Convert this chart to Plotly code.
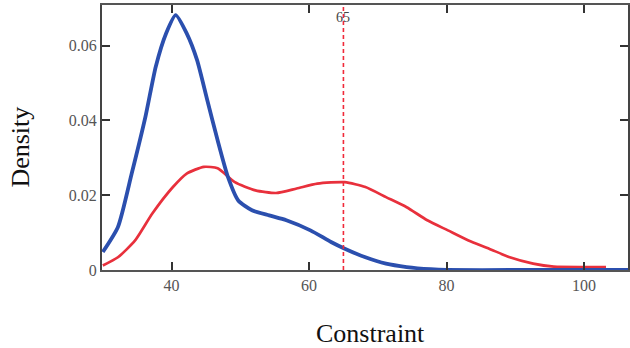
import plotly.graph_objects as go

# Data
blue_x = [30, 32.2, 34.2, 36.2, 37.7, 39.2, 40.6, 42.2, 43.7, 45.2, 46.7, 48.2, 49.7,
          51.7, 54.2, 56.7, 60.2, 63.2, 65.2, 68.2, 71.2, 74.2, 77.7, 80, 90, 100, 106.4]
blue_y = [0.0048, 0.0115, 0.0258, 0.041, 0.0544, 0.0633, 0.0682, 0.0633, 0.0562, 0.0454,
          0.0347, 0.0249, 0.0186, 0.016, 0.0146, 0.0133, 0.0106, 0.0075, 0.0057, 0.0034,
          0.0017, 0.0008, 0.0002, 0.0, 0.0, 0.0, 0.0]

red_x = [30, 32.2, 34.7, 37.2, 40.2, 42.2, 44.7, 46.7, 49.2, 52.2, 55.2, 58.2, 61.2,
         65.2, 68.2, 71.2, 74.2, 77.2, 80.2, 83.2, 86.2, 89.2, 92.6, 95.6, 100, 103.2]
red_y = [0.0012, 0.0034, 0.0079, 0.0151, 0.0222, 0.0258, 0.0276, 0.0272, 0.0235, 0.0213,
         0.0206, 0.0218, 0.0231, 0.0235, 0.0222, 0.0195, 0.0168, 0.0133, 0.0106, 0.0079,
         0.0057, 0.0034, 0.0017, 0.0009, 0.0008, 0.0008]

threshold = 65
x_ticks = [40, 60, 80, 100]
y_ticks = [0, 0.02, 0.04, 0.06]
y_tick_labels = ["0", "0.02", "0.04", "0.06"]

fig = go.Figure()
fig.add_trace(go.Scatter(x=red_x, y=red_y, mode="lines",
                         line=dict(color="#e8303c", width=2.7, shape="spline", smoothing=0.6)))
fig.add_trace(go.Scatter(x=blue_x, y=blue_y, mode="lines",
                         line=dict(color="#2b4fae", width=3.8, shape="spline", smoothing=0.6)))

fig.add_shape(type="line", x0=threshold, x1=threshold, y0=0, y1=1, xref="x", yref="paper",
              line=dict(color="#f02a3a", width=1.6, dash="4px,3px"))

axis_font = dict(family="Liberation Serif", size=16, color="#555")
title_font = dict(family="Liberation Serif", size=26, color="#111")
fig.update_layout(
    width=630, height=348,
    margin=dict(l=102, r=0, t=5, b=78),
    paper_bgcolor="white", plot_bgcolor="white",
    showlegend=False,
    annotations=[
        dict(x=threshold, y=0.0676, xref="x", yref="y", text=str(threshold), showarrow=False,
             xanchor="center", yanchor="middle",
             font=dict(family="Liberation Serif", size=14, color="#444")),
        dict(x=-(102 - 20) / 528, y=0.463, xref="paper", yref="paper", text="Density",
             showarrow=False, textangle=-90, xanchor="center", yanchor="middle",
             font=title_font),
        dict(x=0.5105, y=-0.238, xref="paper", yref="paper", text="Constraint",
             showarrow=False, xanchor="center", yanchor="middle", font=title_font),
    ],
    xaxis=dict(range=[29.88, 106.4], tickvals=x_ticks, ticks="inside", ticklen=8, tickwidth=2,
               tickcolor="#333", showline=True, linecolor="#555", linewidth=2, mirror="ticks",
               showgrid=False, zeroline=False, tickfont=axis_font),
    yaxis=dict(range=[0, 0.0709], tickvals=y_ticks, ticktext=y_tick_labels, ticks="inside",
               ticklen=8, tickwidth=2, tickcolor="#333", showline=True, linecolor="#444",
               linewidth=2, mirror="ticks", showgrid=False, zeroline=False, tickfont=axis_font),
)

fig.write_html("out.html", config={"displayModeBar": False},
               post_script="document.body.style.margin='0';document.body.style.overflow='hidden';")
